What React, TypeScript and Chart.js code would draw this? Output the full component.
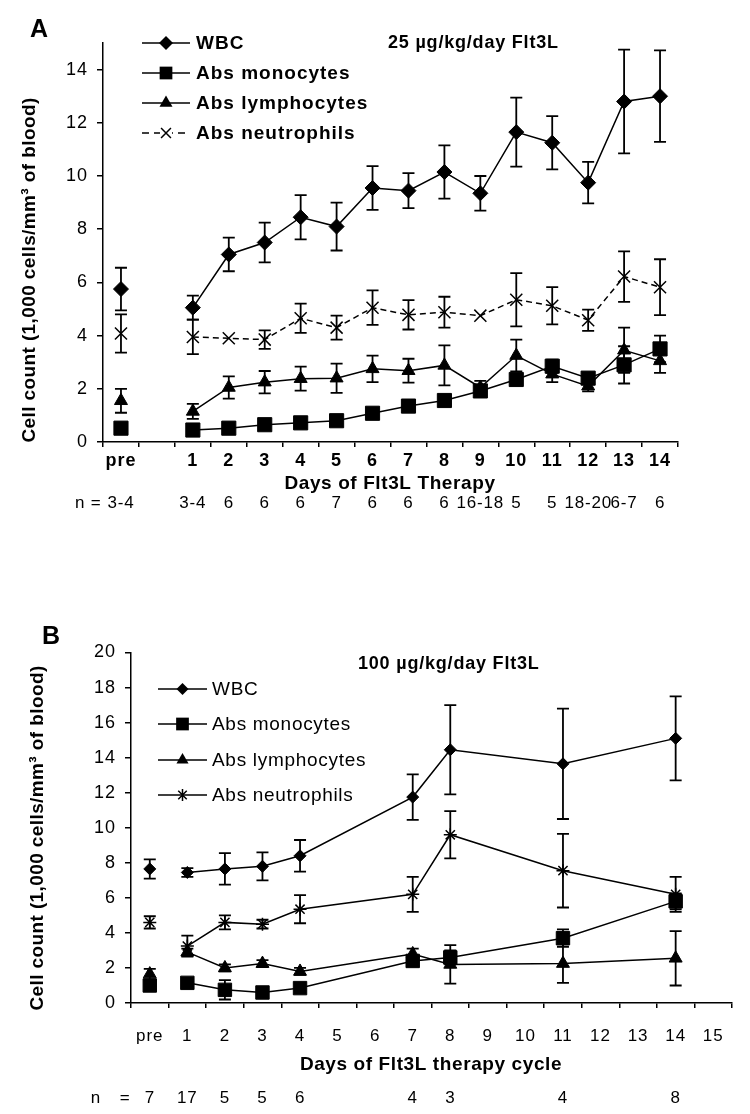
import React, { useEffect, useRef } from "react";
import { Chart, registerables } from "chart.js";

Chart.register(...registerables);

// ---------- Panel A (25 µg/kg/day) ----------
const catsA = ["pre", "", "1", "2", "3", "4", "5", "6", "7", "8", "9", "10", "11", "12", "13", "14"];
const daysA = ["1", "2", "3", "4", "5", "6", "7", "8", "9", "10", "11", "12", "13", "14"];
const nLabelsA = ["3-4", "", "3-4", "6", "6", "6", "7", "6", "6", "6", "16-18", "5", "5", "18-20", "6-7", "6"];

const wbcA = [5.05, 7.05, 7.5, 8.45, 8.1, 9.55, 9.45, 10.15, 9.35, 11.65, 11.25, 9.75, 12.8, 13.0];
const wbcErrA = [0.45, 0.63, 0.75, 0.83, 0.9, 0.82, 0.66, 1.0, 0.65, 1.3, 1.0, 0.78, 1.95, 1.72];
const wbcPreA = [5.75];
const wbcPreErrA = [0.8];

const monoA = [0.45, 0.52, 0.65, 0.72, 0.8, 1.08, 1.35, 1.56, 1.92, 2.35, 2.85, 2.4, 2.9, 3.5];
const monoErrA = [0.1, 0.1, 0.1, 0.1, 0.1, 0.1, 0.1, 0.1, 0.1, 0.2, 0.25, 0.2, 0.7, 0.5];
const monoPreA = [0.52];
const monoPreErrA = [0.1];

const lymphA = [1.15, 2.05, 2.25, 2.38, 2.4, 2.75, 2.68, 2.88, 2.05, 3.25, 2.55, 2.1, 3.45, 3.05];
const lymphErrA = [0.28, 0.42, 0.42, 0.45, 0.55, 0.5, 0.45, 0.75, 0.25, 0.6, 0.3, 0.2, 0.85, 0.45];
const lymphPreA = [1.55];
const lymphPreErrA = [0.45];

const neutA = [3.95, 3.9, 3.85, 4.65, 4.3, 5.05, 4.78, 4.88, 4.75, 5.35, 5.12, 4.58, 6.22, 5.82];
const neutErrA = [0.65, 0, 0.35, 0.55, 0.45, 0.65, 0.55, 0.58, 0, 1.0, 0.7, 0.4, 0.95, 1.05];
const neutPreA = [4.08];
const neutPreErrA = [0.72];

const yTicksA = [0, 2, 4, 6, 8, 10, 12, 14];

// ---------- Panel B (100 µg/kg/day) ----------
const catsB = ["pre", "1", "2", "3", "4", "5", "6", "7", "8", "9", "10", "11", "12", "13", "14", "15"];
const daysB = ["1", "2", "3", "4", "7", "8", "11", "14"];
const nLabelsB = ["7", "17", "5", "5", "6", "", "", "4", "3", "", "", "4", "", "", "8", ""];

const wbcB = [7.45, 7.65, 7.8, 8.4, 11.75, 14.45, 13.65, 15.1];
const wbcErrB = [0.25, 0.9, 0.8, 0.9, 1.3, 2.55, 3.15, 2.4];
const wbcPreB = [7.65];
const wbcPreErrB = [0.55];

const monoB = [1.15, 0.75, 0.6, 0.85, 2.4, 2.6, 3.7, 5.8];
const monoErrB = [0.2, 0.55, 0.15, 0.2, 0.3, 0.4, 0.5, 0.45];
const monoPreB = [1.0];
const monoPreErrB = [0.3];

const lymphB = [2.9, 2.0, 2.25, 1.8, 2.8, 2.2, 2.25, 2.55];
const lymphErrB = [0.2, 0.2, 0.2, 0.2, 0.3, 1.1, 1.1, 1.55];
const lymphPreB = [1.65];
const lymphPreErrB = [0.3];

const neutB = [3.25, 4.6, 4.5, 5.35, 6.2, 9.6, 7.55, 6.2];
const neutErrB = [0.6, 0.4, 0.25, 0.8, 1.0, 1.35, 2.1, 1.0];
const neutPreB = [4.6];
const neutPreErrB = [0.35];

const yTicksB = [0, 2, 4, 6, 8, 10, 12, 14, 16, 18, 20];

const seriesNames = ["WBC", "Abs monocytes", "Abs lymphocytes", "Abs neutrophils"];

const FONT = "'Liberation Sans', Arial, Helvetica, sans-serif";
const BLACK = "#000";

function pts(labels: string[], values: number[]) {
  return values.map((v, i) => ({ x: labels[i], y: v }));
}

function setFont(ctx: any, font: string, spacing: number) {
  ctx.font = font;
  ctx.letterSpacing = `${spacing}px`;
}

function drawMarker(ctx: CanvasRenderingContext2D, style: string, x: number, y: number, r: number) {
  ctx.save();
  ctx.fillStyle = BLACK;
  ctx.strokeStyle = BLACK;
  ctx.setLineDash([]);
  ctx.beginPath();
  if (style === "rectRot") {
    ctx.moveTo(x, y - r);
    ctx.lineTo(x + r, y);
    ctx.lineTo(x, y + r);
    ctx.lineTo(x - r, y);
    ctx.closePath();
    ctx.fill();
  } else if (style === "rect") {
    const s = r * Math.SQRT1_2;
    ctx.rect(x - s, y - s, 2 * s, 2 * s);
    ctx.fill();
  } else if (style === "triangle") {
    for (let k = 0; k < 3; k++) {
      const a = -Math.PI / 2 + (k * 2 * Math.PI) / 3;
      const px = x + Math.cos(a) * r;
      const py = y + Math.sin(a) * r;
      if (k === 0) ctx.moveTo(px, py);
      else ctx.lineTo(px, py);
    }
    ctx.closePath();
    ctx.fill();
  } else {
    const d = r * Math.SQRT1_2;
    ctx.lineWidth = 1.5;
    ctx.moveTo(x - d, y - d);
    ctx.lineTo(x + d, y + d);
    ctx.moveTo(x + d, y - d);
    ctx.lineTo(x - d, y + d);
    if (style === "star") {
      ctx.moveTo(x, y - r);
      ctx.lineTo(x, y + r);
    }
    ctx.stroke();
  }
  ctx.restore();
}

const spacingPlugin = {
  id: "tickSpacing",
  beforeDraw(chart: any) {
    chart.ctx.letterSpacing = "1px";
  },
};

const errorBarPlugin = {
  id: "errorBars",
  beforeDatasetsDraw(chart: any) {
    const ctx = chart.ctx;
    const yScale = chart.scales.y;
    ctx.save();
    ctx.strokeStyle = BLACK;
    ctx.lineWidth = 1.8;
    ctx.setLineDash([]);
    chart.data.datasets.forEach((ds: any, i: number) => {
      const errs: number[] = ds.errs || [];
      const meta = chart.getDatasetMeta(i);
      meta.data.forEach((el: any, j: number) => {
        const e = errs[j];
        if (!e) return;
        const v = ds.data[j].y;
        const x = el.x;
        const yt = yScale.getPixelForValue(v + e);
        const yb = yScale.getPixelForValue(v - e);
        ctx.beginPath();
        ctx.moveTo(x, yt);
        ctx.lineTo(x, yb);
        ctx.moveTo(x - 6, yt);
        ctx.lineTo(x + 6, yt);
        ctx.moveTo(x - 6, yb);
        ctx.lineTo(x + 6, yb);
        ctx.stroke();
      });
    });
    ctx.restore();
  },
};

interface Deco {
  letter: string;
  letterPos: [number, number];
  title: string;
  titlePos: [number, number];
  legendLine: [number, number];
  legendTextX: number;
  legendYs: number[];
  legendFont: string;
  legendSpacing: number;
  legendStyles: string[];
  legendRadii: number[];
  legendDashed: boolean[];
  yTitlePos: [number, number];
  xTitle: string;
  xTitlePos: [number, number];
  nY: number;
  nLabels: string[];
  nPrefix: (ctx: CanvasRenderingContext2D, y: number) => void;
}

function makeDecoPlugin(d: Deco) {
  return {
    id: "deco",
    afterDraw(chart: any) {
      const ctx: CanvasRenderingContext2D = chart.ctx;
      ctx.save();
      ctx.fillStyle = BLACK;
      ctx.strokeStyle = BLACK;
      ctx.textBaseline = "middle";

      setFont(ctx, `bold 25px ${FONT}`, 0);
      ctx.textAlign = "center";
      ctx.fillText(d.letter, d.letterPos[0], d.letterPos[1]);

      setFont(ctx, `bold 18px ${FONT}`, 0.8);
      ctx.textAlign = "left";
      ctx.fillText(d.title, d.titlePos[0], d.titlePos[1]);

      // legend
      seriesNames.forEach((name, i) => {
        const y = d.legendYs[i];
        ctx.save();
        ctx.lineWidth = 1.5;
        ctx.setLineDash(d.legendDashed[i] ? [7, 5] : []);
        ctx.beginPath();
        ctx.moveTo(d.legendLine[0], y);
        ctx.lineTo(d.legendLine[1], y);
        ctx.stroke();
        ctx.restore();
        const cx = (d.legendLine[0] + d.legendLine[1]) / 2;
        if (d.legendDashed[i]) {
          ctx.save();
          ctx.fillStyle = "#fff";
          ctx.fillRect(cx - 6, y - 6, 12, 12);
          ctx.restore();
        }
        drawMarker(ctx, d.legendStyles[i], cx, y, d.legendRadii[i]);
        setFont(ctx, d.legendFont, d.legendSpacing);
        ctx.textAlign = "left";
        ctx.fillText(name, d.legendTextX, y + 1);
      });

      // y title
      ctx.save();
      ctx.translate(d.yTitlePos[0], d.yTitlePos[1]);
      ctx.rotate(-Math.PI / 2);
      setFont(ctx, `bold 19px ${FONT}`, 0.4);
      ctx.textAlign = "center";
      ctx.fillText("Cell count (1,000 cells/mm\u00B3 of blood)", 0, 0);
      ctx.restore();

      // x title
      setFont(ctx, `bold 19px ${FONT}`, 0.6);
      ctx.textAlign = "center";
      ctx.fillText(d.xTitle, d.xTitlePos[0], d.xTitlePos[1]);

      // n row
      setFont(ctx, `17px ${FONT}`, 0.8);
      d.nPrefix(ctx, d.nY);
      ctx.textAlign = "center";
      const xs = chart.scales.x;
      d.nLabels.forEach((t, i) => {
        if (!t) return;
        ctx.fillText(t, xs.getPixelForValue(i), d.nY);
      });
      ctx.restore();
      (ctx as any).letterSpacing = "0px";
    },
  };
}

function lineDs(data: any[], errs: number[], style: string, radius: number, dashed: boolean, showLine = true) {
  const cross = style === "crossRot" || style === "star";
  return {
    data,
    errs,
    showLine,
    borderColor: BLACK,
    backgroundColor: BLACK,
    borderWidth: 1.5,
    borderDash: dashed ? [6, 4] : [],
    pointStyle: style,
    pointRadius: radius,
    pointHoverRadius: radius,
    pointBackgroundColor: cross ? "rgba(0,0,0,0)" : BLACK,
    pointBorderColor: BLACK,
    pointBorderWidth: cross ? 1.5 : 1,
    tension: 0,
  };
}

function axisOptions(
  cats: string[],
  xHeight: number,
  yWidth: number,
  yMax: number,
  yTicks: number[],
  xBold: boolean,
  xPad: number
) {
  return {
    x: {
      type: "category",
      labels: cats,
      offset: true,
      grid: { offset: true, drawOnChartArea: false, drawTicks: true, tickLength: 5, color: BLACK, lineWidth: 1.5 },
      border: { display: true, color: BLACK, width: 1.5 },
      ticks: {
        autoSkip: false,
        maxRotation: 0,
        minRotation: 0,
        color: BLACK,
        padding: xPad,
        font: { family: FONT, size: xBold ? 18 : 17, weight: xBold ? "bold" : "normal" },
      },
      afterFit: (s: any) => {
        s.height = xHeight;
      },
    },
    y: {
      type: "linear",
      min: 0,
      max: yMax,
      afterBuildTicks: (s: any) => {
        s.ticks = yTicks.map((v) => ({ value: v }));
      },
      grid: { drawOnChartArea: false, drawTicks: true, tickLength: 6, color: BLACK, lineWidth: 1.5 },
      border: { display: true, color: BLACK, width: 1.5 },
      ticks: { color: BLACK, padding: 9, font: { family: FONT, size: 18 } },
      afterFit: (s: any) => {
        s.width = yWidth;
      },
    },
  };
}

export default function App() {
  const refA = useRef<HTMLCanvasElement>(null);
  const refB = useRef<HTMLCanvasElement>(null);

  useEffect(() => {
    document.body.style.margin = "0";
    const charts: Chart[] = [];

    if (refA.current) {
      const decoA = makeDecoPlugin({
        letter: "A",
        letterPos: [39, 30],
        title: "25 \u00B5g/kg/day Flt3L",
        titlePos: [388, 43],
        legendLine: [142, 190],
        legendTextX: 196,
        legendYs: [43, 73, 103, 133],
        legendFont: `bold 19px ${FONT}`,
        legendSpacing: 1,
        legendStyles: ["rectRot", "rect", "triangle", "crossRot"],
        legendRadii: [7, 9, 7.5, 7],
        legendDashed: [false, false, false, true],
        yTitlePos: [30, 270],
        xTitle: "Days of Flt3L Therapy",
        xTitlePos: [390, 484],
        nY: 503,
        nLabels: nLabelsA,
        nPrefix: (ctx, y) => {
          ctx.textAlign = "left";
          ctx.fillText("n =", 75, y);
        },
      });
      charts.push(
        new Chart(refA.current, {
          type: "line",
          data: {
            labels: catsA,
            datasets: [
              lineDs(pts(daysA, wbcA), wbcErrA, "rectRot", 7.5, false),
              lineDs(pts(daysA, monoA), monoErrA, "rect", 10, false),
              lineDs(pts(daysA, lymphA), lymphErrA, "triangle", 7.5, false),
              lineDs(pts(daysA, neutA), neutErrA, "crossRot", 8.5, true),
              lineDs(pts(["pre"], wbcPreA), wbcPreErrA, "rectRot", 7.5, false, false),
              lineDs(pts(["pre"], monoPreA), monoPreErrA, "rect", 10, false, false),
              lineDs(pts(["pre"], lymphPreA), lymphPreErrA, "triangle", 7.5, false, false),
              lineDs(pts(["pre"], neutPreA), neutPreErrA, "crossRot", 8.5, true, false),
            ] as any,
          },
          options: {
            animation: false,
            responsive: false,
            devicePixelRatio: 1,
            layout: { padding: { left: 0, top: 43, right: 72, bottom: 0 } },
            plugins: { legend: { display: false }, tooltip: { enabled: false }, title: { display: false } },
            scales: axisOptions(catsA, 98, 103, 15, yTicksA, true, 3) as any,
          },
          plugins: [spacingPlugin, errorBarPlugin, decoA],
        })
      );
    }

    if (refB.current) {
      const decoB = makeDecoPlugin({
        letter: "B",
        letterPos: [51, 87],
        title: "100 \u00B5g/kg/day Flt3L",
        titlePos: [358, 114],
        legendLine: [158, 207],
        legendTextX: 212,
        legendYs: [139, 174, 210, 245],
        legendFont: `19px ${FONT}`,
        legendSpacing: 0.7,
        legendStyles: ["rectRot", "rect", "triangle", "star"],
        legendRadii: [6, 9, 7, 6],
        legendDashed: [false, false, false, false],
        yTitlePos: [38, 288],
        xTitle: "Days of Flt3L therapy cycle",
        xTitlePos: [431, 515],
        nY: 548,
        nLabels: nLabelsB,
        nPrefix: (ctx, y) => {
          ctx.textAlign = "center";
          ctx.fillText("n", 96, y);
          ctx.fillText("=", 125, y);
        },
      });
      charts.push(
        new Chart(refB.current, {
          type: "line",
          data: {
            labels: catsB,
            datasets: [
              lineDs(pts(daysB, wbcB), wbcErrB, "rectRot", 6, false),
              lineDs(pts(daysB, monoB), monoErrB, "rect", 9.5, false),
              lineDs(pts(daysB, lymphB), lymphErrB, "triangle", 7.5, false),
              lineDs(pts(daysB, neutB), neutErrB, "star", 6.5, false),
              lineDs(pts(["pre"], wbcPreB), wbcPreErrB, "rectRot", 6, false, false),
              lineDs(pts(["pre"], monoPreB), monoPreErrB, "rect", 9.5, false, false),
              lineDs(pts(["pre"], lymphPreB), lymphPreErrB, "triangle", 7.5, false, false),
              lineDs(pts(["pre"], neutPreB), neutPreErrB, "star", 6.5, false, false),
            ] as any,
          },
          options: {
            animation: false,
            responsive: false,
            devicePixelRatio: 1,
            layout: { padding: { left: 0, top: 102.5, right: 18, bottom: 0 } },
            plugins: { legend: { display: false }, tooltip: { enabled: false }, title: { display: false } },
            scales: axisOptions(catsB, 111, 131, 20, yTicksB, false, 18) as any,
          },
          plugins: [spacingPlugin, errorBarPlugin, decoB],
        })
      );
    }

    return () => {
      charts.forEach((c) => c.destroy());
    };
  }, []);

  return (
    <div style={{ position: "relative", width: 750, height: 1114, background: "#fff", overflow: "hidden" }}>
      <canvas ref={refA} width={750} height={540} style={{ position: "absolute", left: 0, top: 0, width: 750, height: 540 }} />
      <canvas ref={refB} width={750} height={564} style={{ position: "absolute", left: 0, top: 550, width: 750, height: 564 }} />
    </div>
  );
}
